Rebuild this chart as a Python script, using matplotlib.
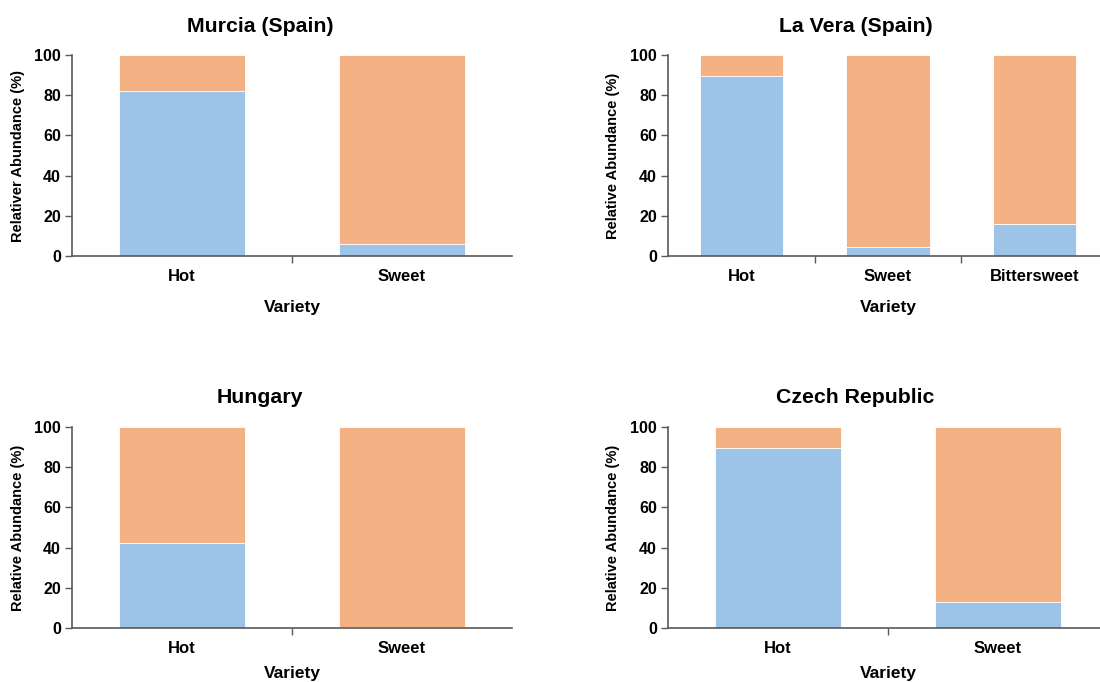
"""Stacked relative-abundance bars per pepper variety, four regions."""

import matplotlib.pyplot as plt
from matplotlib.ticker import FixedLocator

plt.rcParams["font.family"] = ["Liberation Sans", "DejaVu Sans"]
plt.rcParams["font.weight"] = "bold"

BLUE = "#9dc3e6"
ORANGE = "#f4b183"
SPINE = "#595959"

# Blue share (%) of each bar; the orange remainder fills up to 100.
murcia_varieties = ["Hot", "Sweet"]
murcia_blue = [82.0, 6.0]

lavera_varieties = ["Hot", "Sweet", "Bittersweet"]
lavera_blue = [89.5, 4.5, 16.0]

hungary_varieties = ["Hot", "Sweet"]
hungary_blue = [42.5, 0.5]

czech_varieties = ["Hot", "Sweet"]
czech_blue = [89.5, 13.0]

W, H = 1100, 682


def fx(px):
    return px / W


def fy(py):
    return 1 - py / H


def draw_panel(fig, box, title, title_pos, varieties, blue, ylabel, ylabel_x, xlabel_y):
    left, right, top, bottom = box
    ax = fig.add_axes([fx(left), fy(bottom), (right - left) / W, (bottom - top) / H])

    n = len(varieties)
    xs = list(range(n))
    rest = [100 - b for b in blue]
    ax.bar(xs, blue, width=0.57, color=BLUE, edgecolor="white", linewidth=0.6, zorder=2)
    ax.bar(xs, rest, bottom=blue, width=0.57, color=ORANGE, edgecolor="white",
           linewidth=0.6, zorder=2)

    ax.set_xlim(-0.5, n - 0.5)
    ax.set_ylim(0, 100)
    ax.set_yticks([0, 20, 40, 60, 80, 100])
    ax.set_xticks(xs)
    ax.set_xticklabels(varieties)
    # category boundary ticks, Excel style
    ax.xaxis.set_minor_locator(FixedLocator([i + 0.5 for i in range(n - 1)]))
    ax.tick_params(axis="x", which="major", length=0, pad=9.5, labelsize=12)
    ax.tick_params(axis="x", which="minor", length=5, width=1, color=SPINE)
    ax.tick_params(axis="y", length=5, width=1, color=SPINE, labelsize=11.5, pad=3)

    for side in ("top", "right"):
        ax.spines[side].set_visible(False)
    for side in ("left", "bottom"):
        ax.spines[side].set_color(SPINE)
        ax.spines[side].set_linewidth(1.2)

    # chart title and axis titles sit relative to the whole chart block
    fig.text(fx(title_pos[0]), fy(title_pos[1]), title, ha="center", va="baseline",
             fontsize=15.3, fontweight="bold")
    fig.text(fx((left + right) / 2), fy(xlabel_y), "Variety", ha="center", va="baseline",
             fontsize=12.5, fontweight="bold")
    fig.text(fx(ylabel_x), fy((top + bottom) / 2), ylabel, ha="center", va="center",
             rotation=90, fontsize=10.5, fontweight="bold")
    return ax


fig = plt.figure(figsize=(W / 100, H / 100), dpi=100)

draw_panel(fig, (72, 512, 55, 256), "Murcia (Spain)", (260, 31.5),
           murcia_varieties, murcia_blue, "Relativer Abundance (%)", 18.5, 312)
draw_panel(fig, (668, 1108, 55, 256), "La Vera (Spain)", (856, 31.5),
           lavera_varieties, lavera_blue, "Relative Abundance (%)", 613.5, 312)
draw_panel(fig, (72, 512, 427, 628), "Hungary", (260, 403),
           hungary_varieties, hungary_blue, "Relative Abundance (%)", 18.5, 678)
draw_panel(fig, (668, 1108, 427, 628), "Czech Republic", (855, 403),
           czech_varieties, czech_blue, "Relative Abundance (%)", 613.5, 678)

fig.savefig("out.png", dpi=100)
plt.close(fig)
